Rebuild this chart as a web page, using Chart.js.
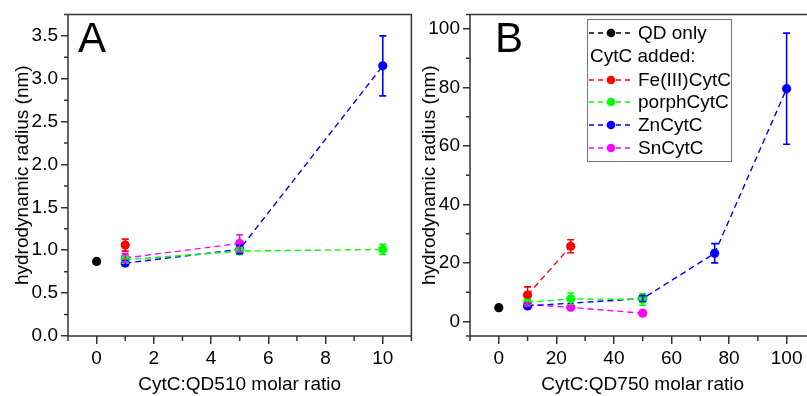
<!DOCTYPE html>
<html><head><meta charset="utf-8">
<script src="https://cdn.jsdelivr.net/npm/chart.js@4/dist/chart.umd.min.js"></script>
<style>
html,body{margin:0;padding:0;background:#fff;overflow:hidden;width:807px;height:396px;}
#wa{position:absolute;left:0;top:0;width:416px;height:396px;}
#wb{position:absolute;left:416px;top:0;width:404px;height:396px;}
</style></head><body>
<div id="wa"><canvas id="ca"></canvas></div>
<div id="wb"><canvas id="cb"></canvas></div>
<script>
// ---- Data ----
const seriesNames = ['QD only','Fe(III)CytC','porphCytC','ZnCytC','SnCytC'];
const seriesColors = ['#000000','#ff0000','#00ff00','#0000ff','#ff00ff'];

// Panel A (CytC:QD510)
const aQD_x = [0],        aQD_y = [0.87],             aQD_e = [0];
const aFe_x = [1],        aFe_y = [1.06],             aFe_e = [0.07];
const aPo_x = [1,5,10],   aPo_y = [0.89,0.99,1.01],   aPo_e = [0.04,0.04,0.06];
const aZn_x = [1,5,10],   aZn_y = [0.85,1.01,3.15],   aZn_e = [0.03,0.05,0.35];
const aSn_x = [1,5],      aSn_y = [0.91,1.08],        aSn_e = [0.05,0.10];

// Panel B (CytC:QD750)
const bQD_x = [0],             bQD_y = [4.7],               bQD_e = [0];
const bFe_x = [10,25],         bFe_y = [9.0,25.7],          bFe_e = [2.8,2.2];
const bPo_x = [10,25,50],      bPo_y = [6.5,7.7,7.5],       bPo_e = [1.0,2.0,2.0];
const bZn_x = [10,50,75,100],  bZn_y = [5.3,7.8,23.3,79.6], bZn_e = [0.8,1.0,3.3,19.0];
const bSn_x = [10,25,50],      bSn_y = [5.8,4.8,2.8],       bSn_e = [0.5,0.6,0.6];

// Tick labels
const aXTicks = [0,2,4,6,8,10],      aXMinor = [-1,1,3,5,7,9,11];
const aYTicks = [0,0.5,1,1.5,2,2.5,3,3.5], aYMinor = [0.25,0.75,1.25,1.75,2.25,2.75,3.25,3.75];
const bXTicks = [0,20,40,60,80,100], bXMinor = [-10,10,30,50,70,90,110];
const bYTicks = [0,20,40,60,80,100], bYMinor = [-5,10,30,50,70,90,105];

const xTitleA = 'CytC:QD510 molar ratio';
const xTitleB = 'CytC:QD750 molar ratio';
const yTitle = 'hydrodynamic radius (nm)';

const FONT = "'Liberation Sans', Arial, sans-serif";
const FS = 19;
const AXC = '#333333';

function mk(xs, ys, es, i){
  return {
    label: seriesNames[i],
    data: xs.map((x,k)=>({x:x,y:ys[k]})),
    errs: es,
    borderColor: seriesColors[i],
    backgroundColor: seriesColors[i],
    borderWidth: 1.4,
    borderDash: [6,4],
    pointRadius: 4.6,
    pointHoverRadius: 4.6,
    pointBorderWidth: 0,
    showLine: true,
    tension: 0
  };
}

const errPlugin = {
  id:'errbars',
  afterDatasetsDraw(chart){
    const ctx = chart.ctx, xs = chart.scales.x, ys = chart.scales.y;
    ctx.save();
    chart.data.datasets.forEach(ds=>{
      ctx.strokeStyle = ds.borderColor; ctx.lineWidth = 1.6; ctx.setLineDash([]);
      ds.data.forEach((p,k)=>{
        const e = ds.errs[k]; if(!e) return;
        const px = xs.getPixelForValue(p.x);
        const y1 = ys.getPixelForValue(p.y+e), y2 = ys.getPixelForValue(p.y-e);
        ctx.beginPath();
        ctx.moveTo(px,y1); ctx.lineTo(px,y2);
        ctx.moveTo(px-3.5,y1); ctx.lineTo(px+3.5,y1);
        ctx.moveTo(px-3.5,y2); ctx.lineTo(px+3.5,y2);
        ctx.stroke();
      });
    });
    ctx.restore();
  }
};

const framePlugin = {
  id:'frame',
  afterDraw(chart, args, opts){
    const ctx = chart.ctx, a = chart.chartArea, xs = chart.scales.x, ys = chart.scales.y;
    ctx.save();
    ctx.strokeStyle = AXC; ctx.lineWidth = 1.5; ctx.setLineDash([]);
    ctx.beginPath();
    ctx.moveTo(a.left, a.top); ctx.lineTo(opts.openRight ? chart.width : a.right, a.top);
    if(!opts.openRight){ ctx.lineTo(a.right, a.bottom); } else { ctx.moveTo(chart.width, a.bottom); }
    ctx.lineTo(a.left, a.bottom); ctx.lineTo(a.left, a.top);
    opts.xMinor.forEach(v=>{const px=xs.getPixelForValue(v); ctx.moveTo(px,a.bottom); ctx.lineTo(px,a.bottom+5);});
    opts.yMinor.forEach(v=>{const py=ys.getPixelForValue(v); ctx.moveTo(a.left,py); ctx.lineTo(a.left-4,py);});
    ctx.stroke();
    ctx.fillStyle = '#000';
    ctx.font = "42px " + FONT;
    ctx.textBaseline = 'alphabetic'; ctx.textAlign = 'left';
    ctx.fillText(opts.letter, a.left + opts.letterDx, 52);
    ctx.restore();
  }
};

const legendPlugin = {
  id:'customLegend',
  afterDraw(chart, args, opts){
    if(!opts.show) return;
    const ctx = chart.ctx;
    const L = 587-416, T = 19, W = 144, H = 142;
    ctx.save();
    ctx.fillStyle = '#fff'; ctx.fillRect(L,T,W,H);
    ctx.strokeStyle = '#777'; ctx.lineWidth = 1; ctx.strokeRect(L+0.5,T+0.5,W,H);
    ctx.font = FS + "px " + FONT; ctx.textBaseline = 'middle'; ctx.textAlign='left';
    const rows = [
      {t:seriesNames[0], c:seriesColors[0], y:33},
      {t:'CytC added:', c:null, y:56},
      {t:seriesNames[1], c:seriesColors[1], y:80},
      {t:seriesNames[2], c:seriesColors[2], y:102},
      {t:seriesNames[3], c:seriesColors[3], y:125},
      {t:seriesNames[4], c:seriesColors[4], y:148}
    ];
    rows.forEach(r=>{
      if(r.c){
        ctx.strokeStyle = r.c; ctx.lineWidth = 1.3; ctx.setLineDash([5,4]);
        ctx.beginPath(); ctx.moveTo(L+2,r.y); ctx.lineTo(L+46,r.y); ctx.stroke();
        ctx.setLineDash([]);
        ctx.fillStyle = r.c; ctx.beginPath(); ctx.arc(L+24,r.y,4.3,0,Math.PI*2); ctx.fill();
        ctx.fillStyle = '#000'; ctx.fillText(r.t, L+51, r.y+1);
      } else {
        ctx.fillStyle = '#000'; ctx.fillText(r.t, L+3, r.y+1);
      }
    });
    ctx.restore();
  }
};

function makeChart(id, datasets, cfg){
  return new Chart(document.getElementById(id), {
    type:'scatter',
    data:{datasets:datasets},
    plugins:[errPlugin, framePlugin, legendPlugin],
    options:{
      responsive:true, maintainAspectRatio:false, animation:false,
      events:[],
      layout:{padding:{left:cfg.padL, right:cfg.padR, top:14, bottom:0}},
      plugins:{
        legend:{display:false}, tooltip:{enabled:false},
        frame:{xMinor:cfg.xMinor, yMinor:cfg.yMinor, letter:cfg.letter, letterDx:cfg.letterDx, openRight:cfg.openRight},
        customLegend:{show:cfg.legend}
      },
      scales:{
        x:{
          type:'linear', min:cfg.xmin, max:cfg.xmax,
          afterBuildTicks:s=>{s.ticks = cfg.xTicks.map(v=>({value:v}));},
          afterFit:s=>{s.height = 60; s.paddingLeft = 0; s.paddingRight = 0;},
          grid:{drawOnChartArea:false, drawTicks:true, tickLength:8, color:AXC, lineWidth:1.5},
          border:{display:false},
          ticks:{color:'#000', font:{family:FONT,size:FS}, padding:3, maxRotation:0, autoSkip:false,
                 callback:v=>String(v)},
          title:{display:true, text:cfg.xTitle, color:'#000', font:{family:FONT,size:FS}, padding:{top:0,bottom:0}}
        },
        y:{
          type:'linear', min:cfg.ymin, max:cfg.ymax,
          afterBuildTicks:s=>{s.ticks = cfg.yTicks.map(v=>({value:v}));},
          afterFit:s=>{s.width = cfg.yW;},
          grid:{drawOnChartArea:false, drawTicks:true, tickLength:7, color:AXC, lineWidth:1.5},
          border:{display:false},
          ticks:{color:'#000', font:{family:FONT,size:FS}, padding:3, autoSkip:false,
                 callback:v=>cfg.yFmt(v)},
          title:{display:true, text:yTitle, color:'#000', font:{family:FONT,size:FS}, padding:{top:cfg.ytPad,bottom:0}}
        }
      }
    }
  });
}

makeChart('ca', [
  mk(aQD_x,aQD_y,aQD_e,0), mk(aFe_x,aFe_y,aFe_e,1), mk(aPo_x,aPo_y,aPo_e,2),
  mk(aZn_x,aZn_y,aZn_e,3), mk(aSn_x,aSn_y,aSn_e,4)
], {padL:8, padR:4, yW:60, ytPad:3, xmin:-1, xmax:11, ymin:0, ymax:3.75,
    xTicks:aXTicks, yTicks:aYTicks, xMinor:aXMinor, yMinor:aYMinor,
    xTitle:xTitleA, yFmt:v=>v.toFixed(1), letter:'A', letterDx:10, legend:false, openRight:false});

makeChart('cb', [
  mk(bQD_x,bQD_y,bQD_e,0), mk(bFe_x,bFe_y,bFe_e,1), mk(bPo_x,bPo_y,bPo_e,2),
  mk(bZn_x,bZn_y,bZn_e,3), mk(bSn_x,bSn_y,bSn_e,4)
], {padL:0, padR:0, yW:54, ytPad:2, xmin:-10, xmax:110, ymin:-5, ymax:105,
    xTicks:bXTicks, yTicks:bYTicks, xMinor:bXMinor, yMinor:bYMinor,
    xTitle:xTitleB, yFmt:v=>String(v), letter:'B', letterDx:25, legend:true, openRight:true});
</script>
</body></html>
